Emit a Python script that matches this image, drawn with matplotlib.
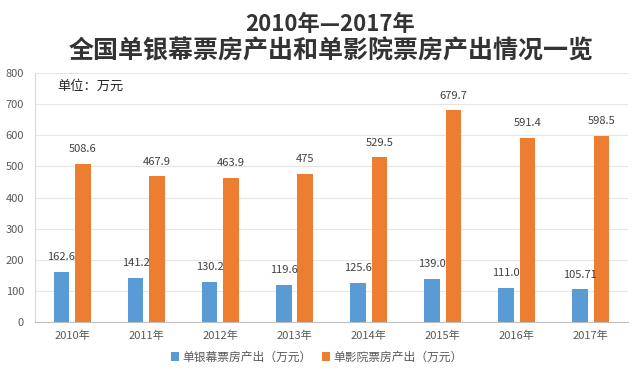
import numpy as np
import matplotlib
matplotlib.use('Agg')
import matplotlib.pyplot as plt

plt.rcParams['font.family'] = ['Noto Sans CJK SC', 'DejaVu Sans']

YEARS = ['2010年', '2011年', '2012年', '2013年', '2014年', '2015年', '2016年', '2017年']
SCREEN = [162.6, 141.2, 130.2, 119.6, 125.6, 139.0, 111.0, 105.71]
CINEMA = [508.6, 467.9, 463.9, 475, 529.5, 679.7, 591.4, 598.5]
SCREEN_LABELS = ['162.6', '141.2', '130.2', '119.6', '125.6', '139.0', '111.0', '105.71']
CINEMA_LABELS = ['508.6', '467.9', '463.9', '475', '529.5', '679.7', '591.4', '598.5']

BLUE = '#5B9BD5'
ORANGE = '#ED7D31'
TXT = '#404040'

x = np.arange(len(YEARS))
width = 0.21
off = 0.145

fig = plt.figure(figsize=(6.4, 3.84), dpi=100)
ax = fig.add_axes([0.055, 0.161, 0.926, 0.649])

b1 = ax.bar(x - off, SCREEN, width, color=BLUE, label='单银幕票房产出（万元）', zorder=3)
b2 = ax.bar(x + off, CINEMA, width, color=ORANGE, label='单影院票房产出（万元）', zorder=3)

for bar, lab in zip(b1, SCREEN_LABELS):
    ax.annotate(lab, (bar.get_x() + bar.get_width() / 2, bar.get_height()),
                xytext=(0, 7), textcoords='offset points', ha='center', va='bottom',
                fontsize=8, color=TXT)
for bar, lab in zip(b2, CINEMA_LABELS):
    ax.annotate(lab, (bar.get_x() + bar.get_width() / 2, bar.get_height()),
                xytext=(0, 7), textcoords='offset points', ha='center', va='bottom',
                fontsize=8, color=TXT)

ax.set_xlim(-0.5, len(YEARS) - 0.5)
ax.set_ylim(0, 800)
ax.set_yticks(np.arange(0, 801, 100))
ax.set_xticks(x)
ax.set_xticklabels(YEARS)
ax.tick_params(length=0, labelsize=8, colors='#595959', pad=6)
ax.tick_params(axis='y', pad=8)
ax.grid(True, axis='y', color='#e6e6e6', lw=0.8, zorder=0)
for s in ['top', 'right']:
    ax.spines[s].set_visible(False)
ax.spines['left'].set_color('#d9d9d9')
ax.spines['bottom'].set_color('#bfbfbf')

ax.text(0.037, 0.945, '单位：万元', transform=ax.transAxes, fontsize=9.5,
        color='#262626', va='center', ha='left')

fig.text(0.516, 0.935, '2010年—2017年', ha='center', va='center',
         fontsize=16, fontweight='bold', color='#333333')
fig.text(0.518, 0.865, '全国单银幕票房产出和单影院票房产出情况一览', ha='center', va='center',
         fontsize=18, fontweight='bold', color='#333333')

fig.legend(loc='center', bbox_to_anchor=(0.495, 0.07), ncol=2, frameon=False,
           fontsize=8.5, handlelength=0.7, handleheight=0.7, handletextpad=0.3,
           columnspacing=0.8, labelcolor='#595959')

fig.savefig('out.png', dpi=100, facecolor='white')
plt.close(fig)
